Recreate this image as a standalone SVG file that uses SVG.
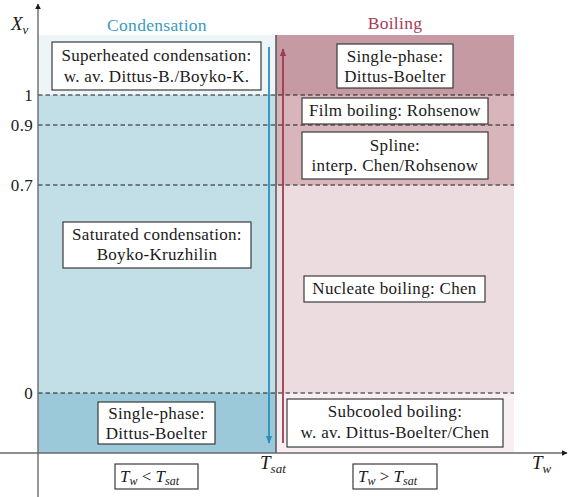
<svg xmlns="http://www.w3.org/2000/svg" width="568" height="497" viewBox="0 0 568 497" font-family="Liberation Serif, DejaVu Serif, serif">
<defs>
<style>
.t{font-size:17px;letter-spacing:0.3px;fill:#1a1a1a;text-anchor:middle}
.m{font-style:italic;fill:#1a1a1a}
.r{text-anchor:end}
.box{fill:#ffffff;stroke:#3a3a3a;stroke-width:1.2}
.dash{stroke:#1a1a1a;stroke-width:1;stroke-dasharray:4.5,3;fill:none}
.ax{stroke:#6a6a6a;stroke-width:1.4;fill:none}
</style>
<marker id="axh" viewBox="0 0 10 10" refX="9" refY="5" markerWidth="6" markerHeight="6" orient="auto-start-reverse" markerUnits="userSpaceOnUse"><path d="M0,0 L10,5 L0,10 Z" fill="#1a1a1a"/></marker>
<marker id="bh" viewBox="0 0 10 10" refX="9" refY="5" markerWidth="8" markerHeight="8" orient="auto" markerUnits="userSpaceOnUse"><path d="M0,1 L10,5 L0,9 Z" fill="#2a8fba"/></marker>
<marker id="rh" viewBox="0 0 10 10" refX="9" refY="5" markerWidth="8" markerHeight="8" orient="auto" markerUnits="userSpaceOnUse"><path d="M0,1 L10,5 L0,9 Z" fill="#9e3a52"/></marker>
</defs>

<g id="regions">
<rect x="38" y="35" width="238" height="60" fill="#eef5f8"/>
<rect x="38" y="95" width="238" height="298" fill="#c2dfe8"/>
<rect x="38" y="393" width="238" height="60" fill="#9cc9da"/>
<rect x="276" y="35" width="238" height="60" fill="#c59aa2"/>
<rect x="276" y="95" width="238" height="90" fill="#d7b5bb"/>
<rect x="276" y="185" width="238" height="208" fill="#ecdbdf"/>
<rect x="276" y="393" width="238" height="60" fill="#f7eff1"/>
<line x1="276" y1="35" x2="276" y2="453" stroke="#555" stroke-width="1.5"/>
</g>

<g id="dashes">
<line class="dash" x1="38" y1="95" x2="514" y2="95"/>
<line class="dash" x1="38" y1="125" x2="514" y2="125"/>
<line class="dash" x1="38" y1="185" x2="514" y2="185"/>
<line class="dash" x1="38" y1="393" x2="514" y2="393"/>
</g>

<g id="axes">
<line class="ax" x1="38" y1="497" x2="38" y2="4" marker-end="url(#axh)"/>
<line class="ax" x1="0" y1="453" x2="567" y2="453" marker-end="url(#axh)"/>
<text class="m" x="11" y="30" font-size="19">X<tspan font-size="13" dy="4">v</tspan></text>
<text class="t r" x="33" y="101">1</text>
<text class="t r" x="33" y="131">0.9</text>
<text class="t r" x="33" y="191">0.7</text>
<text class="t r" x="33" y="399">0</text>
<text class="m" x="260" y="469" font-size="19">T<tspan font-size="13" dy="4">sat</tspan></text>
<text class="m" x="532" y="469" font-size="19">T<tspan font-size="13" dy="4">w</tspan></text>
</g>

<g id="connectors">
<line x1="269" y1="47" x2="269" y2="443" stroke="#2a8fba" stroke-width="1.8" marker-end="url(#bh)"/>
<line x1="283" y1="443" x2="283" y2="49" stroke="#9e3a52" stroke-width="1.8" marker-end="url(#rh)"/>
</g>

<g id="heading-condensation"><text class="t" x="157" y="31" style="fill:#3a9ac0;font-size:17.5px">Condensation</text></g>
<g id="heading-boiling"><text class="t" x="395" y="29" style="fill:#a43c55;font-size:17.5px">Boiling</text></g>

<g id="superheated">
<rect class="box" x="52" y="42" width="209" height="48"/>
<text class="t" x="156.5" y="61">Superheated condensation:</text>
<text class="t" x="156.5" y="82">w. av. Dittus-B./Boyko-K.</text>
</g>
<g id="single-phase-boiling">
<rect class="box" x="337" y="44" width="116" height="44"/>
<text class="t" x="395" y="62">Single-phase:</text>
<text class="t" x="395" y="82">Dittus-Boelter</text>
</g>
<g id="film-boiling">
<rect class="box" x="302" y="98" width="186" height="26"/>
<text class="t" x="395" y="116">Film boiling: Rohsenow</text>
</g>
<g id="spline">
<rect class="box" x="302" y="132" width="186" height="47"/>
<text class="t" x="395" y="151">Spline:</text>
<text class="t" x="395" y="171">interp. Chen/Rohsenow</text>
</g>
<g id="saturated">
<rect class="box" x="63" y="222" width="188" height="46"/>
<text class="t" x="157" y="240">Saturated condensation:</text>
<text class="t" x="157" y="260">Boyko-Kruzhilin</text>
</g>
<g id="nucleate">
<rect class="box" x="304" y="276" width="181" height="26"/>
<text class="t" x="394.5" y="294">Nucleate boiling: Chen</text>
</g>
<g id="single-phase-cond">
<rect class="box" x="98" y="402" width="117" height="42"/>
<text class="t" x="156.5" y="419">Single-phase:</text>
<text class="t" x="156.5" y="439">Dittus-Boelter</text>
</g>
<g id="subcooled">
<rect class="box" x="287" y="399" width="216" height="48"/>
<text class="t" x="395" y="417">Subcooled boiling:</text>
<text class="t" x="395" y="438">w. av. Dittus-Boelter/Chen</text>
</g>
<g id="tw-less">
<rect class="box" x="115" y="464" width="83" height="25"/>
<text class="m" x="120" y="482" font-size="17">T<tspan font-size="12" dy="3">w</tspan><tspan dy="-3" font-style="normal"> &lt; </tspan>T<tspan font-size="12" dy="3">sat</tspan></text>
</g>
<g id="tw-greater">
<rect class="box" x="353" y="464" width="84" height="25"/>
<text class="m" x="358" y="482" font-size="17">T<tspan font-size="12" dy="3">w</tspan><tspan dy="-3" font-style="normal"> &gt; </tspan>T<tspan font-size="12" dy="3">sat</tspan></text>
</g>
</svg>
